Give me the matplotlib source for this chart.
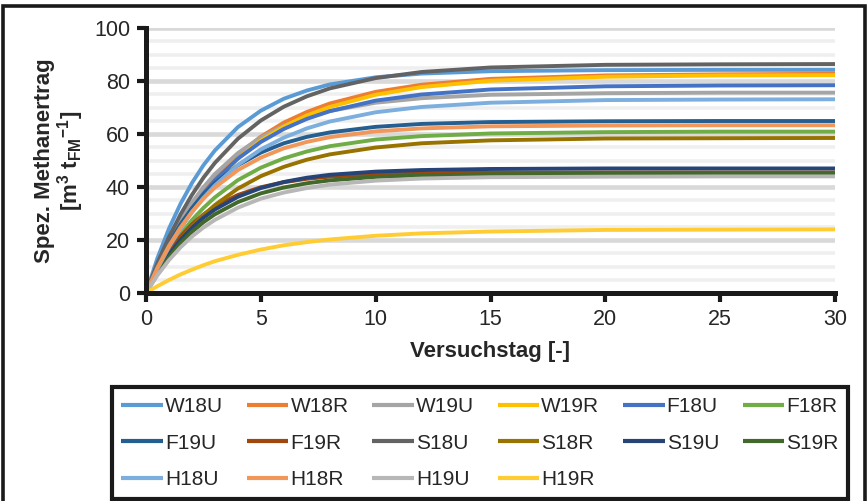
import matplotlib
matplotlib.use('Agg')
import matplotlib.pyplot as plt
from matplotlib.patches import Rectangle

plt.rcParams['font.family'] = 'Liberation Sans'
plt.rcParams['mathtext.fontset'] = 'custom'
plt.rcParams['mathtext.rm'] = 'Liberation Sans'
plt.rcParams['mathtext.bf'] = 'Liberation Sans:bold'

# Versuchstage
days = [0, 0.5, 1, 1.5, 2, 2.5, 3, 4, 5, 6, 7, 8, 10, 12, 15, 20, 25, 30]

# kumulierter spez. Methanertrag [m3 t_FM^-1]
w18u = [0, 13.2, 24.3, 33.6, 41.5, 48.2, 53.8, 62.6, 68.8, 73.3, 76.4, 78.7, 81.4, 82.8, 83.7, 84.1, 84.2, 84.2]
w18r = [0, 9.7, 18.3, 25.9, 32.5, 38.4, 43.6, 52.3, 59.0, 64.3, 68.3, 71.5, 75.9, 78.6, 80.8, 82.1, 82.5, 82.7]
w19u = [0, 10.5, 19.6, 27.4, 34.1, 39.9, 44.9, 52.8, 58.7, 63.1, 66.3, 68.7, 71.8, 73.5, 74.8, 75.4, 75.6, 75.6]
w19r = [0, 9.3, 17.6, 24.9, 31.4, 37.1, 42.2, 50.8, 57.5, 62.8, 67.0, 70.2, 74.8, 77.7, 80.1, 81.6, 82.1, 82.2]
f18u = [0, 9.6, 17.9, 25.3, 31.8, 37.5, 42.5, 50.7, 57.0, 61.9, 65.7, 68.6, 72.6, 74.9, 76.8, 78.0, 78.3, 78.4]
f18r = [0, 8.5, 15.8, 22.1, 27.5, 32.1, 36.1, 42.6, 47.3, 50.8, 53.4, 55.4, 57.9, 59.2, 60.2, 60.7, 60.9, 60.9]
f19u = [0, 10.1, 18.7, 25.9, 32.0, 37.2, 41.5, 48.2, 53.0, 56.5, 58.9, 60.6, 62.7, 63.8, 64.5, 64.8, 64.9, 64.9]
f19r = [0, 8.6, 15.6, 21.3, 25.9, 29.6, 32.6, 37.0, 39.9, 41.8, 43.1, 43.9, 44.8, 45.2, 45.4, 45.5, 45.5, 45.5]
s18u = [0, 11.3, 21.1, 29.6, 37.0, 43.5, 49.1, 58.2, 65.1, 70.3, 74.2, 77.2, 81.1, 83.4, 85.1, 86.1, 86.3, 86.4]
s18r = [0, 7.6, 14.3, 20.1, 25.1, 29.4, 33.2, 39.4, 44.1, 47.6, 50.3, 52.3, 54.9, 56.5, 57.6, 58.3, 58.4, 58.5]
s19u = [0, 7.9, 14.5, 20.0, 24.6, 28.4, 31.5, 36.3, 39.6, 41.9, 43.5, 44.6, 45.8, 46.4, 46.8, 47.0, 47.0, 47.0]
s19r = [0, 7.4, 13.6, 18.8, 23.1, 26.7, 29.7, 34.3, 37.6, 39.8, 41.4, 42.5, 43.8, 44.4, 44.8, 45.0, 45.0, 45.0]
h18u = [0, 9.2, 17.3, 24.3, 30.5, 35.9, 40.6, 48.3, 54.2, 58.6, 62.1, 64.7, 68.2, 70.2, 71.8, 72.8, 73.0, 73.1]
h18r = [0, 9.6, 17.8, 24.7, 30.6, 35.6, 39.8, 46.4, 51.1, 54.6, 57.0, 58.8, 61.0, 62.1, 62.9, 63.2, 63.3, 63.3]
h19u = [0, 6.7, 12.4, 17.2, 21.3, 24.7, 27.6, 32.2, 35.6, 37.9, 39.6, 40.9, 42.4, 43.2, 43.7, 43.9, 44.0, 44.0]
h19r = [0, 2.6, 4.9, 7.0, 8.8, 10.5, 12.0, 14.4, 16.4, 18.0, 19.2, 20.2, 21.6, 22.5, 23.2, 23.8, 23.9, 24.0]

labels = ['W18U', 'W18R', 'W19U', 'W19R', 'F18U', 'F18R',
          'F19U', 'F19R', 'S18U', 'S18R', 'S19U', 'S19R',
          'H18U', 'H18R', 'H19U', 'H19R']
values = [w18u, w18r, w19u, w19r, f18u, f18r,
          f19u, f19r, s18u, s18r, s19u, s19r,
          h18u, h18r, h19u, h19r]
colors = ['#5B9BD5', '#ED7D31', '#A5A5A5', '#FFC000', '#4472C4', '#70AD47',
          '#255E91', '#9E480E', '#636363', '#997300', '#264478', '#43682B',
          '#7CAFDD', '#F1975A', '#B7B7B7', '#FFCD33']

fig = plt.figure(figsize=(8.68, 5.01), dpi=100)
ax = fig.add_axes([146/868, 1 - 293/501, (835 - 146)/868, (293 - 28)/501])

lines = []
for name, vals, col in zip(labels, values, colors):
    ln, = ax.plot(days, vals, color=col, lw=2.8, label=name,
                  solid_capstyle='butt', solid_joinstyle='round')
    lines.append(ln)

ax.set_xlim(0, 30)
ax.set_ylim(0, 100)
ax.set_xticks(range(0, 31, 5))
ax.set_yticks(range(0, 101, 20))
ax.set_yticks(range(0, 101, 5), minor=True)

ax.set_axisbelow(True)
ax.yaxis.grid(True, which='major', color='#d9d9d9', lw=3.3)
ax.yaxis.grid(True, which='minor', color='#efefef', lw=2.6)

for side in ['top', 'right']:
    ax.spines[side].set_visible(False)
for side in ['left', 'bottom']:
    ax.spines[side].set_linewidth(3.6)
    ax.spines[side].set_color('#1a1a1a')
ax.tick_params(which='major', direction='out', length=6.5, width=3,
               color='#1a1a1a', labelsize=15.5, labelcolor='#262626', pad=5)
ax.tick_params(which='minor', length=0)

ax.set_xlabel('Versuchstag [-]', fontsize=16, fontweight='bold', color='#262626')
ax.xaxis.set_label_coords(0.5, (293 - 352) / 265)
ax.xaxis.label.set_va('center')

ax.set_ylabel('Spez. Methanertrag\n[m$^{\\mathbf{3}}$ t$_{\\mathbf{FM}}$$^{\\mathbf{-1}}$]',
              fontsize=16, fontweight='bold', color='#262626', linespacing=1.0)
ax.yaxis.set_label_coords((60 - 146) / 689, 0.5)
ax.yaxis.label.set_va('center')

# Legende zeilenweise (6 Spalten) -> Reihenfolge fuer spaltenweises Fuellen umstellen
ncol = 6
order = []
for c in range(ncol):
    for r in range(0, len(labels), ncol):
        if r + c < len(labels):
            order.append(r + c)

leg = fig.legend([lines[i] for i in order], [labels[i] for i in order],
                 ncol=ncol, loc='upper left', mode='expand',
                 bbox_to_anchor=(112/868, 1 - 388/501, (848 - 112)/868, 0.001),
                 bbox_transform=fig.transFigure,
                 fontsize=15, frameon=True, fancybox=False, framealpha=1,
                 edgecolor='#1a1a1a', handlelength=2.0, handletextpad=0.1,
                 columnspacing=1.0, labelspacing=0.85, borderpad=0.45,
                 borderaxespad=0)
leg.get_frame().set_linewidth(3)
for h in leg.get_lines():
    h.set_linewidth(3)
for t in leg.get_texts():
    t.set_color('#262626')

# Rahmen um die gesamte Grafik
fig.add_artist(Rectangle((3/868, -0.05), (865 - 3)/868, 1.05 - 6/501,
                         transform=fig.transFigure, fill=False,
                         edgecolor='#1a1a1a', lw=2.6, clip_on=False))

fig.savefig('out.png', dpi=100)
